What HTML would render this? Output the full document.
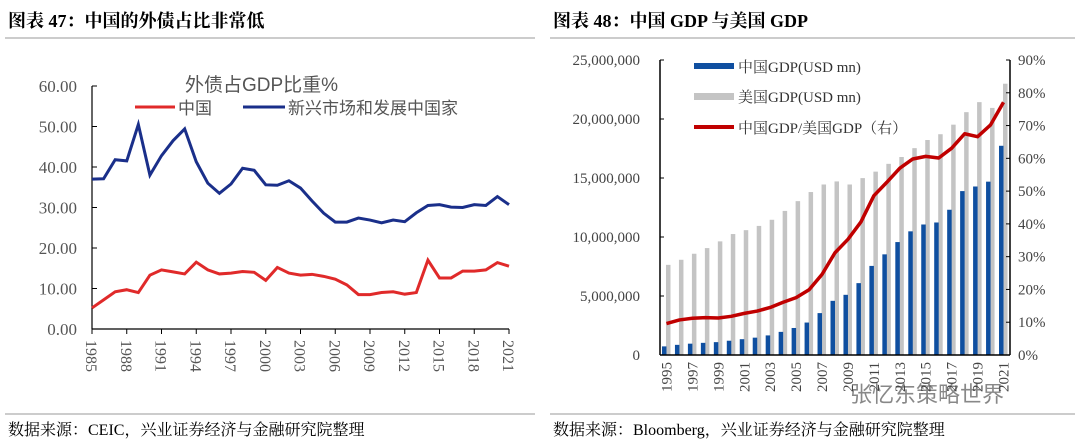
<!DOCTYPE html><html><head><meta charset="utf-8"><style>body{margin:0;background:#fff}svg{display:block;font-family:"Liberation Serif","Noto Serif CJK SC",serif}</style></head><body>
<svg id="s" width="1080" height="442">
<text x="8" y="27" font-size="18" font-weight="bold">图表 47：中国的外债占比非常低</text>
<text x="553" y="27" font-size="18" font-weight="bold">图表 48：中国 GDP 与美国 GDP</text>
<line x1="5" y1="38" x2="535" y2="38" stroke="#999"/>
<line x1="550" y1="38" x2="1075" y2="38" stroke="#999"/>
<line x1="5" y1="414" x2="535" y2="414" stroke="#999"/>
<line x1="550" y1="414" x2="1075" y2="414" stroke="#999"/>
<text x="8" y="435" font-size="16">数据来源：CEIC，兴业证券经济与金融研究院整理</text>
<text x="553" y="435" font-size="16">数据来源：Bloomberg，兴业证券经济与金融研究院整理</text>
<text x="850" y="402" font-size="22" fill="#888" font-family="Liberation Sans,Noto Sans CJK SC,sans-serif">张忆东策略世界</text>
<g id="L"></g><g id="R"></g>
</svg>
<script>
const years=[];for(let y=1985;y<=2021;y++)years.push(y);
const chinaDebt=[5.2,7.2,9.2,9.7,9.0,13.3,14.6,14.1,13.6,16.5,14.6,13.6,13.8,14.2,14.0,12.0,15.2,13.8,13.3,13.5,13.0,12.3,10.9,8.5,8.5,9.0,9.2,8.6,9.0,17.0,12.6,12.6,14.3,14.3,14.6,16.4,15.5];
const emDebt=[37.0,37.1,41.8,41.5,50.5,38.0,42.8,46.5,49.4,41.3,36.0,33.5,35.8,39.7,39.2,35.6,35.5,36.6,34.8,31.6,28.6,26.4,26.4,27.4,26.9,26.2,26.9,26.5,28.7,30.5,30.7,30.1,30.0,30.7,30.5,32.7,30.7];
const leftTicks=[0,10,20,30,40,50,60];
const gdpYears=[];for(let y=1995;y<=2021;y++)gdpYears.push(y);
const usGdp=[7.64,8.07,8.58,9.06,9.63,10.25,10.58,10.94,11.46,12.21,13.04,13.81,14.45,14.71,14.45,14.99,15.54,16.20,16.78,17.53,18.22,18.71,19.52,20.58,21.43,20.94,22.99];
const cnGdp=[0.73,0.86,0.96,1.03,1.09,1.21,1.34,1.47,1.66,1.96,2.29,2.75,3.55,4.59,5.10,6.09,7.55,8.53,9.57,10.48,11.06,11.23,12.31,13.89,14.28,14.69,17.73];
const ratio=[9.6,10.7,11.2,11.4,11.3,11.8,12.7,13.4,14.5,16.1,17.5,19.9,24.6,31.2,35.3,40.6,48.6,52.7,57.0,59.8,60.6,60.1,63.1,67.5,66.6,70.2,77.1];
const gdpTicks=[0,5,10,15,20,25];
const gdpTickLabels=["0","5,000,000","10,000,000","15,000,000","20,000,000","25,000,000"];
const pctTicks=[0,10,20,30,40,50,60,70,80,90];
const NS="http://www.w3.org/2000/svg";
function mk(p,t,a,txt){const e=document.createElementNS(NS,t);for(const k in a)e.setAttribute(k,a[k]);if(txt!==undefined)e.textContent=txt;p.appendChild(e);return e;}
const L=document.getElementById('L');
const lx=y=>92+(y-1985)*(509-92)/36, ly=v=>329-v*(329-86)/60;
let e=mk(L,'line',{x1:92,y1:86,x2:92,y2:329,stroke:'#000','stroke-width':1.2});

e=mk(L,'line',{x1:92,y1:329,x2:509,y2:329,stroke:'#000','stroke-width':1.2});

leftTicks.forEach(t=>{e=mk(L,'text',{x:77,y:ly(t)+6,'font-size':17,'text-anchor':'end',fill:'#555'},t.toFixed(2));

mk(L,'line',{x1:92,y1:ly(t),x2:97,y2:ly(t),stroke:'#000'});});
years.forEach(y=>{if((y-1985)%3==0){mk(L,'line',{x1:lx(y),y1:329,x2:lx(y),y2:334,stroke:'#000'});
e=mk(L,'text',{transform:`translate(${lx(y)-6},340) rotate(90)`,'font-size':16,fill:'#555'},y);
}});
e=mk(L,'polyline',{points:emDebt.map((v,i)=>lx(years[i])+','+ly(v)).join(' '),fill:'none',stroke:'#1a2f8a','stroke-width':3});

e=mk(L,'polyline',{points:chinaDebt.map((v,i)=>lx(years[i])+','+ly(v)).join(' '),fill:'none',stroke:'#e02a2a','stroke-width':3});

e=mk(L,'text',{x:185,y:91,'font-size':19,fill:'#555','font-family':'Liberation Sans,Noto Sans CJK SC,sans-serif'},'外债占GDP比重%');

mk(L,'line',{x1:135,y1:107,x2:175,y2:107,stroke:'#e02a2a','stroke-width':3});
e=mk(L,'text',{x:178,y:114,'font-size':17,fill:'#555','font-family':'Liberation Sans,Noto Sans CJK SC,sans-serif'},'中国');

mk(L,'line',{x1:243,y1:107,x2:285,y2:107,stroke:'#1a2f8a','stroke-width':3});
e=mk(L,'text',{x:288,y:114,'font-size':17,fill:'#555','font-family':'Liberation Sans,Noto Sans CJK SC,sans-serif'},'新兴市场和发展中国家');

const R=document.getElementById('R');
const x0=660,x1=1010,bw=(x1-x0)/27;
const rx=i=>x0+bw*(i+0.5), ryL=v=>355-v*(355-60)/25, ryR=v=>355-v*(355-60)/90;
usGdp.forEach((v,i)=>{e=mk(R,'rect',{x:rx(i)-0.5,y:ryL(v),width:4.5,height:355-ryL(v),fill:'#c4c4c4'});
});
cnGdp.forEach((v,i)=>{e=mk(R,'rect',{x:rx(i)-4.5,y:ryL(v),width:4.5,height:355-ryL(v),fill:'#0f4fa0'});
});
e=mk(R,'polyline',{points:ratio.map((v,i)=>rx(i)+','+ryR(v)).join(' '),fill:'none',stroke:'#c00000','stroke-width':3.5,'stroke-linejoin':'round'});

e=mk(R,'line',{x1:x0,y1:60,x2:x0,y2:355,stroke:'#000','stroke-width':1.5});

e=mk(R,'line',{x1:x1,y1:60,x2:x1,y2:355,stroke:'#000','stroke-width':1.5});

e=mk(R,'line',{x1:x0,y1:355,x2:x1,y2:355,stroke:'#000','stroke-width':1.5});

gdpTicks.forEach((t,i)=>{mk(R,'line',{x1:x0,y1:ryL(t),x2:x0+4,y2:ryL(t),stroke:'#000'});
e=mk(R,'text',{x:640,y:ryL(t)+5,'font-size':15,'text-anchor':'end',fill:'#444'},gdpTickLabels[i]);
});
pctTicks.forEach(t=>{mk(R,'line',{x1:x1-4,y1:ryR(t),x2:x1,y2:ryR(t),stroke:'#000'});
e=mk(R,'text',{x:1018,y:ryR(t)+5,'font-size':15,fill:'#444'},t+'%');
});
gdpYears.forEach((y,i)=>{if(i%2==0){e=mk(R,'text',{transform:`translate(${rx(i)+5},${362}) rotate(-90)`,'font-size':15,'text-anchor':'end',fill:'#444'},y);
}});
mk(R,'rect',{x:694,y:63,width:40,height:6,fill:'#0f4fa0'});
e=mk(R,'text',{x:738,y:72,'font-size':15,fill:'#333'},'中国GDP(USD mn)');

mk(R,'rect',{x:694,y:93,width:40,height:7,fill:'#c4c4c4'});
e=mk(R,'text',{x:738,y:102,'font-size':15,fill:'#333'},'美国GDP(USD mn)');

mk(R,'line',{x1:694,y1:127,x2:734,y2:127,stroke:'#c00000','stroke-width':4});
e=mk(R,'text',{x:738,y:133,'font-size':15,fill:'#333'},'中国GDP/美国GDP（右）');

</script>
</body></html>
